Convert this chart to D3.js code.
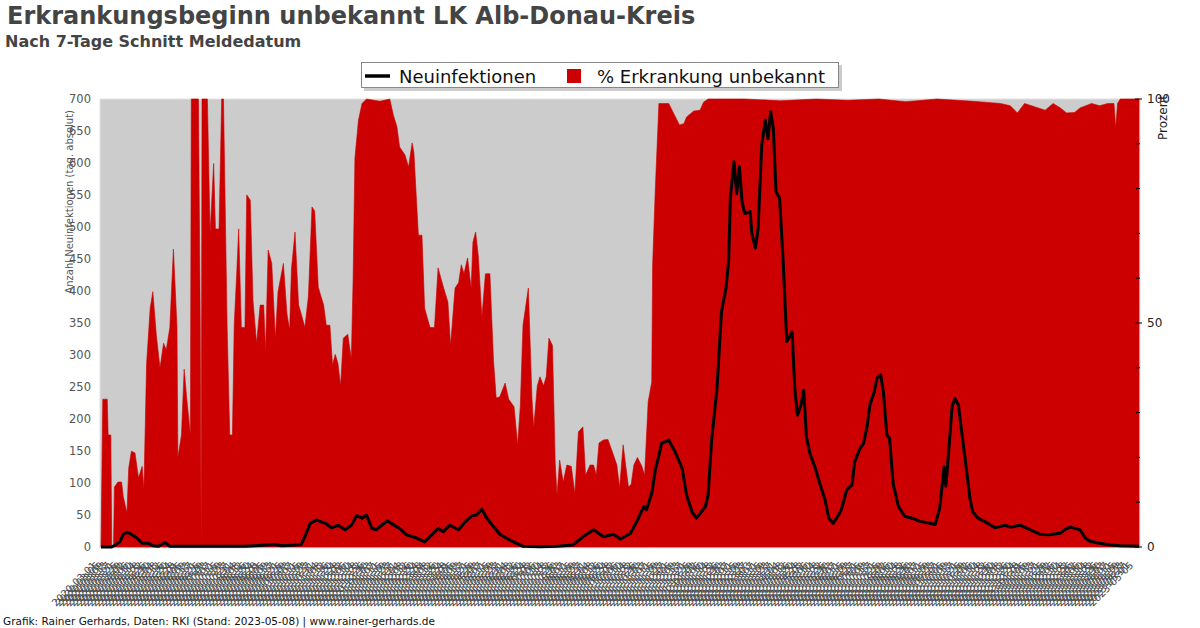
<!DOCTYPE html>
<html><head><meta charset="utf-8">
<script src="https://cdn.jsdelivr.net/npm/d3@7/dist/d3.min.js"></script>
<style>
body{margin:0;background:#fff;}
svg{display:block;font-family:"DejaVu Sans",sans-serif;}
</style>
</head><body>
<svg id="chart" width="1200" height="628"></svg>
<script>
// ---------- data ----------
const titleText = "Erkrankungsbeginn unbekannt LK Alb-Donau-Kreis";
const subtitleText = "Nach 7-Tage Schnitt Meldedatum";
const footerText = "Grafik: Rainer Gerhards, Daten: RKI (Stand: 2023-05-08) | www.rainer-gerhards.de";
const seriesNames = ["Neuinfektionen", "% Erkrankung unbekannt"];
const leftAxisTitle = "Anzahl Neuinfektionen (tag. absolut)";
const rightAxisTitle = "Prozent";
const startDate = "2020-03-01";
const endDate = "2023-05-06";
const xTickEveryDays = 4;
const leftTicks = [0,50,100,150,200,250,300,350,400,450,500,550,600,650,700];
const rightTicks = [0,10,20,30,40,50,60,70,80,90,100];
const rightTickLabels = [0,50,100];

// Neuinfektionen (7-day mean), days since startDate
const caseDays = [0,12,16,21,25,29,34,40,46,53,58,64,72,77,161,172,195,202,217,224,228,234,241,251,258,265,273,280,286,292,297,303,308,314,320,327,334,342,353,362,370,377,383,390,400,407,415,420,426,431,439,446,457,472,491,510,528,539,551,562,573,581,592,599,607,610,616,620,625,627,635,642,650,655,661,666,676,679,683,689,694,699,702,704,708,711,714,717,720,726,728,732,735,739,743,746,749,752,755,759,763,767,773,776,779,783,786,789,793,799,804,810,814,819,825,828,834,840,843,849,853,857,860,865,868,872,875,879,882,886,892,899,907,916,927,933,938,943,945,947,952,955,959,964,969,972,975,981,988,1000,1011,1017,1028,1039,1050,1061,1073,1078,1084,1095,1101,1106,1117,1129,1140,1161];
const caseValues = [0,0,3,8,20,23,20,14,6,6,2,1,7,1,1,2,4,2,3,4,16,37,42,37,30,34,27,34,49,45,50,29,27,34,41,35,29,19,14,8,19,29,24,34,27,39,49,50,59,46,32,20,11,1,0.5,1,3,16,27,16,20,12.5,21,39,63,58,84,120,149,162,167,149,123,81,55,45,63,81,167,248,368,404,446,547,602,552,594,540,521,524,490,467,498,628,667,638,680,654,555,545,446,321,336,248,206,222,245,172,146,123,99,73,45,37,50,58,89,97,133,154,162,190,222,243,264,269,243,175,170,99,63,48,45,40,37,35,60,125,95,130,220,232,222,165,110,75,55,45,40,30,34,31,34,27,20,19,22,27,31,27,14,9,6,3,2,1];

// % Erkrankungsbeginn unbekannt, days since startDate
const pctDays = [0,2,7,8,11,12,14,15,19,23,25,29,31,34,38,42,46,48,51,55,58,62,66,70,73,77,81,85,86,90,93,96,100,101,109,111,112,113,119,122,126,128,132,135,137,141,144,147,149,152,154,157,161,163,167,170,174,178,182,184,187,191,195,198,204,208,211,213,217,221,224,228,232,236,239,243,249,252,256,259,262,265,268,271,276,280,282,284,288,292,297,312,323,327,331,334,340,344,348,350,355,359,362,368,373,377,383,388,391,396,400,403,406,410,414,416,419,422,426,430,435,439,442,446,452,456,462,466,469,472,478,482,484,488,491,495,498,501,505,508,510,513,517,521,526,530,534,539,542,547,551,554,557,562,567,572,577,580,584,587,590,593,596,600,605,608,612,616,617,620,624,635,640,647,652,655,663,670,674,679,720,760,800,835,870,900,935,975,1006,1017,1025,1033,1056,1065,1073,1080,1089,1095,1108,1117,1126,1133,1135,1137,1140,1161];
const pctValues = [0,33,33,25,25,0,0,13.4,14.5,14.5,11.2,7.6,17.6,21.4,21,15.4,18,13,41,53.3,57,47,40,45.5,44,49,66.5,49,20,25,39.7,33,25,100,100,50,0,100,100,70,85.6,71,71,100,100,50,25,25,49.5,62,71,49,49,78.6,77.4,55,45.5,54,54,43.6,66.3,63.3,46.6,57,63.3,52,48.5,62,70.3,54,52,49,56,75.9,75,58,54,49.5,49.5,40.6,43,41,36,46.6,47.5,42,60,86.8,95.3,99,100,99.5,100,96.4,93.8,89.3,87.5,84.8,90.2,88,69.6,69.6,53.3,49,49,62.3,58,54.7,45,57.8,59,63,61,64.5,57.8,68,70.3,65,51.3,61,61,41.7,33.3,33.5,36.6,33,31.3,22.8,31.5,49.5,57.8,33.3,26.6,36,38,36,38,46.6,45,19,11.6,19.4,14.5,18.3,18,12,25.7,26.8,16,18.3,18.3,16,23.2,23.9,24,21.2,18.3,13.2,22.8,18,13.4,14,18.3,20,18,16,32.4,36.8,63,80,99,99,97,94.2,94.5,96,97.3,97.5,99.3,100,100,99.6,100,99.7,100,99.4,100,99.5,99,98.5,96.9,99,97.5,99,98,96.9,97,98,99,98.5,99,99,93.5,99,100,100];

// ---------- drawing ----------
const svg = d3.select("#chart");
const plot = {left: 100, right: 1140, top: 99, bottom: 547};

const parse = d3.timeParse("%Y-%m-%d");
const fmt = d3.timeFormat("%Y-%m-%d");
const d0 = parse(startDate), d1 = parse(endDate);
const allDates = d3.timeDay.range(d0, d3.timeDay.offset(d1, 1));
const tickDates = allDates.filter((d, i) => i % xTickEveryDays === 0);

const x = d3.scaleTime().domain([d0, d1]).range([plot.left + 1, plot.right - 1]);
const yL = d3.scaleLinear().domain([0, 700]).range([plot.bottom, plot.top]);
const yR = d3.scaleLinear().domain([0, 100]).range([plot.bottom, plot.top]);
const dayDate = d => d3.timeDay.offset(d0, d);

// title
svg.append("text").attr("x", 7).attr("y", 24).attr("font-size", 24).attr("font-weight", "bold")
  .attr("fill", "#444").text(titleText);
svg.append("text").attr("x", 5).attr("y", 47).attr("font-size", 16).attr("font-weight", "bold")
  .attr("fill", "#444").text(subtitleText);

// plot background
svg.append("rect").attr("x", plot.left).attr("y", plot.top).attr("width", plot.right - plot.left)
  .attr("height", plot.bottom - plot.top + 1).attr("fill", "#cccccc").attr("stroke", "#e2e2e2").attr("stroke-width", 1);

svg.append("clipPath").attr("id", "clip").append("rect")
  .attr("x", plot.left).attr("y", plot.top - 2).attr("width", plot.right - plot.left).attr("height", plot.bottom - plot.top + 6);

const pctData = pctDays.map((d, i) => ({date: dayDate(d), v: pctValues[i]}));
const caseData = caseDays.map((d, i) => ({date: dayDate(d), v: caseValues[i]}));

svg.append("path").datum(pctData).attr("clip-path", "url(#clip)")
  .attr("fill", "#cc0000").attr("stroke", "#cc0000").attr("stroke-width", 0.6)
  .attr("d", d3.area().x(d => x(d.date)).y0(yR(0)).y1(d => yR(d.v)));

svg.append("path").datum(caseData)
  .attr("fill", "none").attr("stroke", "#000").attr("stroke-width", 3).attr("stroke-linejoin", "round")
  .attr("d", d3.line().x(d => x(d.date)).y(d => yL(d.v)));

// left axis
const gL = svg.append("g").attr("transform", `translate(${plot.left},0)`)
  .call(d3.axisLeft(yL).tickValues(leftTicks).tickSize(0).tickPadding(9));
gL.select(".domain").remove();
gL.selectAll("text").attr("font-size", 11.5).attr("fill", "#555").attr("font-family", "DejaVu Sans");

svg.append("text").attr("transform", `translate(73,${plot.top + 11}) rotate(-90)`)
  .attr("text-anchor", "end").attr("font-size", 10).attr("fill", "#555").text(leftAxisTitle);

// right axis
const gR = svg.append("g").attr("transform", `translate(${plot.right},0)`);
gR.selectAll("line").data(rightTicks).join("line")
  .attr("x1", d => rightTickLabels.includes(d) ? -5 : -4).attr("x2", d => rightTickLabels.includes(d) ? 2 : 0)
  .attr("y1", d => yR(d)).attr("y2", d => yR(d)).attr("stroke", "#000").attr("stroke-width", 1);
gR.selectAll("text").data(rightTickLabels).join("text")
  .attr("x", 7).attr("y", d => yR(d)).attr("dy", "0.36em").attr("font-size", 12).attr("fill", "#222").text(d => d);
svg.append("text").attr("transform", `translate(1167,${plot.top - 4}) rotate(-90)`)
  .attr("text-anchor", "end").attr("font-size", 12).attr("fill", "#222").text(rightAxisTitle);

// x axis labels
const gX = svg.append("g");
gX.selectAll("text").data(tickDates).join("text")
  .attr("transform", d => `translate(${x(d) - 4},${plot.bottom + 19}) rotate(-45)`)
  .attr("text-anchor", "end").attr("font-size", 10).attr("fill", "#4a4a4a")
  .text(d => fmt(d));

// legend
const lg = svg.append("g");
lg.append("rect").attr("x", 364).attr("y", 65).attr("width", 478).attr("height", 26).attr("fill", "#aaa").attr("opacity", 0.6);
lg.append("rect").attr("x", 361.5).attr("y", 62.5).attr("width", 477).attr("height", 25).attr("fill", "#fff").attr("stroke", "#888");
lg.append("line").attr("x1", 365).attr("x2", 390).attr("y1", 76).attr("y2", 76).attr("stroke", "#000").attr("stroke-width", 3.5);
lg.append("text").attr("x", 399).attr("y", 83).attr("font-size", 18).attr("fill", "#111").text(seriesNames[0]);
lg.append("rect").attr("x", 567).attr("y", 69).attr("width", 14).attr("height", 14).attr("fill", "#cc0000");
lg.append("text").attr("x", 597).attr("y", 83).attr("font-size", 18).attr("fill", "#111").text(seriesNames[1]);

// footer
svg.append("text").attr("x", 3).attr("y", 625).attr("font-size", 10.5).attr("fill", "#111").text(footerText);
</script>
</body></html>
